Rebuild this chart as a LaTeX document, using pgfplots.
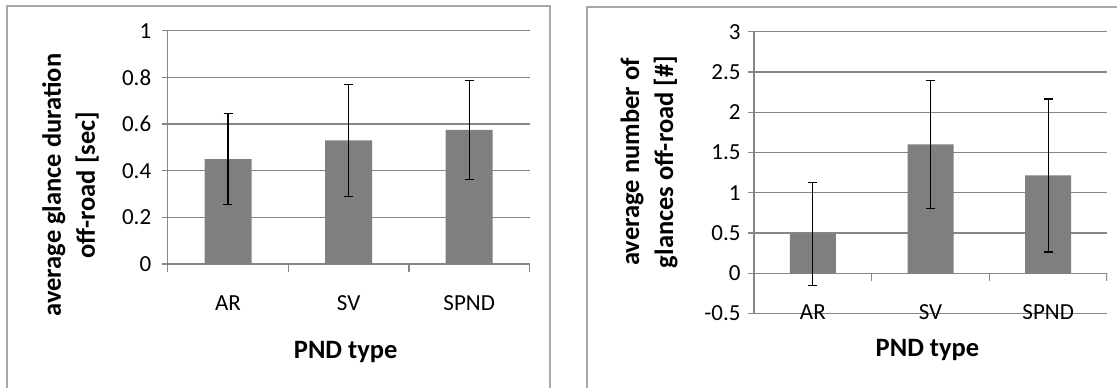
\documentclass[border=0pt]{standalone}
\usepackage{fontspec}
\setmainfont{Carlito}
\usepackage{pgfplots}
\usepackage{pgfplotstable}
\pgfplotsset{compat=1.18}

\definecolor{barfill}{RGB}{127,127,127}
\definecolor{gridgray}{RGB}{134,134,134}
\definecolor{framegray}{RGB}{168,168,168}

% mean and half-width of the error bar per PND type
\pgfplotstableread{
x  y      err
0  0.450  0.195
1  0.530  0.240
2  0.575  0.213
}\durationdata
\pgfplotstableread{
x  y      err
0  0.485  0.640
1  1.600  0.795
2  1.215  0.950
}\glancedata

\pgfplotsset{
  pndbase/.style={
    scale only axis,
    anchor=south west,
    xmin=-0.5, xmax=2.5,
    axis x line*=bottom, axis y line*=left,
    axis line style={draw=gridgray, line width=1.4pt, -},
    ymajorgrids, grid style={draw=gridgray, line width=1.4pt},
    tick align=outside, major tick length=6pt,
    ytick style={draw=gridgray, line width=1.4pt},
    xtick={0,1,2}, xticklabels={AR,SV,SPND},
    xtick style={draw=none},
    /pgf/number format/assume math mode=true,
    ticklabel style={font=\fontsize{23}{27}\selectfont},
    label style={font=\bfseries\fontsize{26.5}{34}\selectfont, align=center},
    ybar, bar width=47pt,
    every axis plot/.append style={fill=barfill, draw=none},
  },
  pnderr/.style={
    error bars/.cd, y dir=both, y explicit,
    error bar style={draw=black, line width=1.2pt},
    error mark options={draw=black, line width=1.2pt, mark size=4.5pt, rotate=90},
  },
}

\begin{document}
\begin{tikzpicture}
\useasboundingbox (0,0) rectangle (1117pt,388pt);
\fill[white] (0,0) rectangle (1117pt,388pt);

% chart frames
\draw[framegray, line width=2pt] (7pt,-5pt) -- (7pt,382pt) -- (550pt,382pt) -- (550pt,-5pt);
\draw[framegray, line width=2pt] (587pt,-5pt) -- (587pt,381pt) -- (1125pt,381pt);

% average glance duration
\begin{axis}[pndbase,
  at={(167.7pt,124pt)},
  width=361.8pt, height=233.3pt,
  ymin=0, ymax=1,
  ytick={0,0.2,0.4,0.6,0.8,1},
  yticklabel style={xshift=-7pt},
  xticklabel style={anchor=center, yshift=-33pt},
  extra x ticks={-0.5,0.5,1.5,2.5},
  extra x tick labels={},
  extra x tick style={grid=none, major tick length=8pt,
    xtick style={draw=gridgray, line width=1.4pt}},
  xlabel={PND type},
  xlabel style={at={(axis description cs:0.492,-0.377)}, anchor=center},
  ylabel={average glance duration\\off-road [sec]},
  ylabel style={at={(axis description cs:-0.2687,0.3386)}, anchor=center},
]
\addplot[pnderr] table[x=x, y=y, y error=err] {\durationdata};
\end{axis}

% average number of glances
\begin{axis}[pndbase,
  at={(754pt,74.5pt)},
  width=353pt, height=281.7pt,
  ymin=-0.5, ymax=3,
  ytick={-0.5,0,0.5,1,1.5,2,2.5,3},
  yticklabel style={xshift=-4pt},
  xticklabel style={anchor=center, yshift=7.8pt},
  bar width=46pt,
  xlabel={PND type},
  xlabel style={at={(axis description cs:0.4915,-0.1296)}, anchor=center},
  ylabel={average number of\\glances off-road [\#]},
  ylabel style={at={(axis description cs:-0.2975,0.5378)}, anchor=center},
]
\addplot[pnderr] table[x=x, y=y, y error=err] {\glancedata};
% category separators on the zero line
\draw[gridgray, line width=1.4pt] (axis cs:0.5,0) -- ++(0pt,-8pt);
\draw[gridgray, line width=1.4pt] (axis cs:1.5,0) -- ++(0pt,-8pt);
\draw[gridgray, line width=1.4pt] (axis cs:2.5,0) -- ++(0pt,-8pt);
\end{axis}
\end{tikzpicture}
\end{document}
